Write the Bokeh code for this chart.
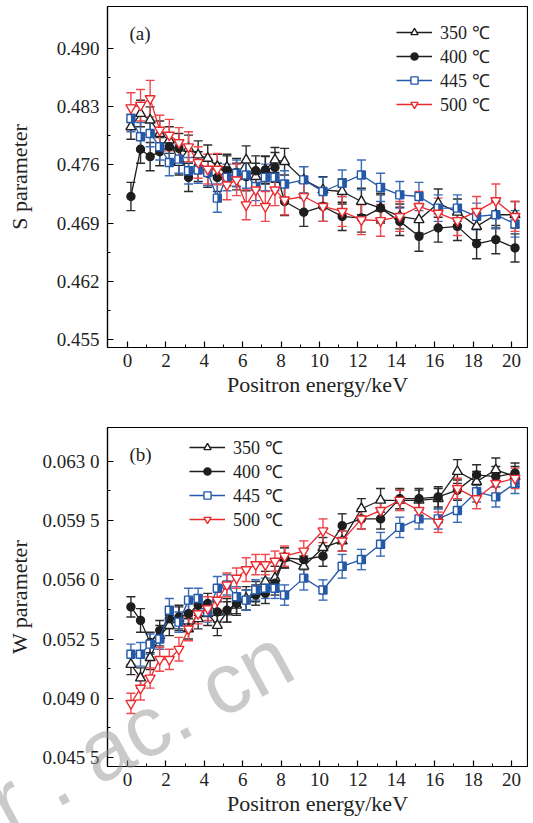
from bokeh.plotting import figure
from bokeh.layouts import column
from bokeh.models import (ColumnDataSource, Whisker, TeeHead, FixedTicker, Range1d,
                          Legend, LegendItem, Label, Div)
from bokeh.embed import file_html
from bokeh.resources import INLINE

# ---------------- data ----------------
energy = [0.18, 0.68, 1.18, 1.68, 2.18, 2.68, 3.18, 3.68, 4.18, 4.68, 5.18, 5.68,
          6.18, 6.68, 7.18, 7.68, 8.18, 9.18, 10.18, 11.18, 12.18, 13.18, 14.18,
          15.18, 16.18, 17.18, 18.18, 19.18, 20.18]
labels = ["350 ℃", "400 ℃", "445 ℃", "500 ℃"]

s_350 = [0.4806, 0.4822, 0.4814, 0.4798, 0.4790, 0.4763, 0.4780, 0.4772, 0.4768, 0.4758,
         0.4757, 0.4746, 0.4766, 0.4746, 0.4754, 0.4766, 0.4764, 0.4742, 0.4730, 0.4728,
         0.4716, 0.4708, 0.4698, 0.4694, 0.4714, 0.4703, 0.4686, 0.4700, 0.4700]
s_400 = [0.4722, 0.4779, 0.4770, 0.4776, 0.4782, 0.4780, 0.4745, 0.4758, 0.4750, 0.4745,
         0.4753, 0.4751, 0.4746, 0.4753, 0.4754, 0.4757, 0.4716, 0.4703, 0.4710, 0.4698,
         0.4696, 0.4708, 0.4692, 0.4674, 0.4684, 0.4686, 0.4665, 0.4670, 0.4660]
s_445 = [0.4816, 0.4794, 0.4798, 0.4782, 0.4763, 0.4767, 0.4753, 0.4754, 0.4751, 0.4720,
         0.4745, 0.4750, 0.4748, 0.4734, 0.4745, 0.4745, 0.4737, 0.4742, 0.4728, 0.4738,
         0.4748, 0.4733, 0.4724, 0.4722, 0.4708, 0.4708, 0.4698, 0.4700, 0.4689]
s_500 = [0.4829, 0.4832, 0.4840, 0.4802, 0.4796, 0.4787, 0.4782, 0.4763, 0.4755, 0.4755,
         0.4736, 0.4742, 0.4712, 0.4730, 0.4710, 0.4730, 0.4718, 0.4722, 0.4710, 0.4704,
         0.4694, 0.4693, 0.4698, 0.4710, 0.4702, 0.4693, 0.4704, 0.4717, 0.4698]

s_350_err = [0.0015, 0.0016, 0.0016, 0.0015, 0.0016, 0.0015, 0.0016, 0.0017, 0.0016, 0.0015,
             0.0016, 0.0016, 0.0017, 0.0016, 0.0016, 0.0015, 0.0016, 0.0016, 0.0016, 0.0015,
             0.0016, 0.0016, 0.0015, 0.0016, 0.0017, 0.0016, 0.0016, 0.0016, 0.0016]
s_400_err = [0.0017, 0.0017, 0.0017, 0.0017, 0.0017, 0.0018, 0.0017, 0.0018, 0.0017, 0.0017,
             0.0018, 0.0017, 0.0017, 0.0018, 0.0017, 0.0018, 0.0017, 0.0017, 0.0018, 0.0017,
             0.0017, 0.0018, 0.0017, 0.0018, 0.0017, 0.0017, 0.0018, 0.0017, 0.0017]
s_445_err = [0.0016, 0.0017, 0.0016, 0.0016, 0.0016, 0.0017, 0.0016, 0.0016, 0.0016, 0.0017,
             0.0016, 0.0016, 0.0016, 0.0017, 0.0016, 0.0016, 0.0016, 0.0016, 0.0017, 0.0016,
             0.0018, 0.0017, 0.0016, 0.0017, 0.0016, 0.0016, 0.0016, 0.0017, 0.0016]
s_500_err = [0.0018, 0.0019, 0.0022, 0.0018, 0.0019, 0.0018, 0.0018, 0.0019, 0.0018, 0.0019,
             0.0018, 0.0019, 0.0018, 0.0019, 0.0018, 0.0019, 0.0018, 0.0018, 0.0018, 0.0018,
             0.0018, 0.0019, 0.0018, 0.0018, 0.0018, 0.0018, 0.0018, 0.0020, 0.0018]

w_350 = [0.0510, 0.0502, 0.0514, 0.0527, 0.0533, 0.0537, 0.0531, 0.0537, 0.0540, 0.0533,
         0.0541, 0.0545, 0.0549, 0.0553, 0.0559, 0.0561, 0.0573, 0.0568, 0.0579, 0.0583,
         0.0602, 0.0607, 0.0607, 0.0607, 0.0608, 0.0624, 0.0618, 0.0625, 0.0621]
w_400 = [0.0544, 0.0536, 0.0523, 0.0530, 0.0537, 0.0538, 0.0540, 0.0545, 0.0546, 0.0541,
         0.0542, 0.0546, 0.0548, 0.0551, 0.0552, 0.0558, 0.0573, 0.0572, 0.0574, 0.0592,
         0.0596, 0.0596, 0.0608, 0.0608, 0.0609, 0.0613, 0.0622, 0.0621, 0.0623]
w_445 = [0.0516, 0.0516, 0.0522, 0.0525, 0.0542, 0.0535, 0.0548, 0.0549, 0.0541, 0.0555,
         0.0557, 0.0550, 0.0548, 0.0554, 0.0555, 0.0555, 0.0551, 0.0561, 0.0554, 0.0568,
         0.0572, 0.0581, 0.0591, 0.0596, 0.0596, 0.0601, 0.0612, 0.0609, 0.0617]
w_500 = [0.0487, 0.0496, 0.0502, 0.0513, 0.0513, 0.0519, 0.0531, 0.0540, 0.0543, 0.0548,
         0.0557, 0.0561, 0.0566, 0.0569, 0.0569, 0.0571, 0.0574, 0.0577, 0.0589, 0.0583,
         0.0596, 0.0601, 0.0607, 0.0601, 0.0594, 0.0614, 0.0608, 0.0617, 0.0620]

w_350_err = [0.0006, 0.0006, 0.0007, 0.0006, 0.0006, 0.0007, 0.0006, 0.0006, 0.0007, 0.0006,
             0.0006, 0.0006, 0.0007, 0.0006, 0.0006, 0.0007, 0.0006, 0.0006, 0.0006, 0.0006,
             0.0006, 0.0007, 0.0006, 0.0006, 0.0006, 0.0007, 0.0006, 0.0007, 0.0006]
w_400_err = [0.0006, 0.0007, 0.0006, 0.0006, 0.0006, 0.0007, 0.0006, 0.0006, 0.0006, 0.0006,
             0.0007, 0.0006, 0.0006, 0.0006, 0.0006, 0.0007, 0.0006, 0.0006, 0.0006, 0.0007,
             0.0006, 0.0006, 0.0006, 0.0006, 0.0006, 0.0006, 0.0006, 0.0006, 0.0006]
w_445_err = [0.0006, 0.0007, 0.0006, 0.0006, 0.0007, 0.0006, 0.0007, 0.0006, 0.0006, 0.0007,
             0.0006, 0.0006, 0.0006, 0.0006, 0.0006, 0.0006, 0.0006, 0.0007, 0.0006, 0.0007,
             0.0006, 0.0007, 0.0006, 0.0006, 0.0006, 0.0007, 0.0006, 0.0006, 0.0006]
w_500_err = [0.0006, 0.0007, 0.0006, 0.0007, 0.0006, 0.0007, 0.0007, 0.0006, 0.0007, 0.0006,
             0.0007, 0.0006, 0.0007, 0.0006, 0.0006, 0.0006, 0.0006, 0.0006, 0.0007, 0.0006,
             0.0006, 0.0006, 0.0006, 0.0006, 0.0006, 0.0006, 0.0006, 0.0006, 0.0006]

x_ticks = [0, 2, 4, 6, 8, 10, 12, 14, 16, 18, 20]
x_minor = [1, 3, 5, 7, 9, 11, 13, 15, 17, 19]
s_ticks = [0.455, 0.462, 0.469, 0.476, 0.483, 0.490]
s_minor = [0.4585, 0.4655, 0.4725, 0.4795, 0.4865]
s_tick_labels = ["0.455", "0.462", "0.469", "0.476", "0.483", "0.490"]
w_ticks = [0.0455, 0.0490, 0.0525, 0.0560, 0.0595, 0.0630]
w_minor = [0.04725, 0.05075, 0.05425, 0.05775, 0.06125]
w_tick_labels = ["0.045 5", "0.049 0", "0.052 5", "0.056 0", "0.059 5", "0.063 0"]
watermark = "r . ac. cn"

# ---------------- style ----------------
FONT = "Liberation Serif"
LINE_COLORS = ["#1e1e1e", "#1e1e1e", "#2458a8", "#ec2a2e"]
ERR_COLORS = ["#2b2b2b", "#2b2b2b", "#3a6bb8", "#f0484c"]
MARKERS = ["triangle", "circle", "square", "inverted_triangle"]
SIZES = [10, 8, 8, 10]
FILLS = ["white", "#1e1e1e", "white", "white"]
X0, X1 = -1.04, 20.83
W = 528
BL, BR = 107, 1
PX_PER_X = (W - BL - BR) / (X1 - X0)


def make_fig(height, yr, yticks, yminor, ylabels, ylab, top, bottom, ylab_standoff):
    p = figure(width=W, height=height, x_range=Range1d(X0, X1), y_range=Range1d(*yr),
               output_backend="svg", toolbar_location=None,
               min_border_left=BL, min_border_right=BR,
               min_border_top=top, min_border_bottom=bottom)
    p.grid.visible = False
    p.outline_line_color = "black"
    p.outline_line_width = 1.2
    p.background_fill_color = "white"
    p.border_fill_color = "white"
    p.xaxis.ticker = FixedTicker(ticks=x_ticks, minor_ticks=x_minor)
    p.yaxis.ticker = FixedTicker(ticks=yticks, minor_ticks=yminor)
    p.yaxis.major_label_overrides = {t: l for t, l in zip(yticks, ylabels)}
    p.xaxis.axis_label = "Positron energy/keV"
    p.yaxis.axis_label = ylab
    for ax in (p.xaxis[0], p.yaxis[0]):
        ax.major_tick_in = 6
        ax.major_tick_out = 0
        ax.minor_tick_in = 3
        ax.minor_tick_out = 0
        ax.axis_line_color = "black"
        ax.axis_line_width = 1.2
        ax.major_tick_line_color = "black"
        ax.major_tick_line_width = 1.2
        ax.minor_tick_line_color = "black"
        ax.major_label_text_font = FONT
        ax.major_label_text_font_size = "19px"
        ax.major_label_text_color = "#222222"
        ax.axis_label_text_font = FONT
        ax.axis_label_text_font_size = "22px"
        ax.axis_label_text_font_style = "normal"
        ax.axis_label_text_color = "#222222"
    p.xaxis.major_label_standoff = 6
    p.xaxis.axis_label_standoff = 2
    p.yaxis.major_label_standoff = 8
    p.yaxis.axis_label_standoff = ylab_standoff
    return p


def add_series(p, ys, errs, legend_loc, half_h):
    items = []
    for i, (y, e) in enumerate(zip(ys, errs)):
        src = ColumnDataSource(dict(x=energy, y=y,
                                    upper=[a + b for a, b in zip(y, e)],
                                    lower=[a - b for a, b in zip(y, e)],
                                    xh=[a + 2.0 / PX_PER_X for a in energy]))
        wk = Whisker(source=src, base="x", upper="upper", lower="lower",
                     line_color=ERR_COLORS[i], line_width=1.4,
                     upper_head=TeeHead(size=9, line_color=ERR_COLORS[i], line_width=1.4),
                     lower_head=TeeHead(size=9, line_color=ERR_COLORS[i], line_width=1.4))
        p.add_layout(wk)
        lr = p.line("x", "y", source=src, line_color=LINE_COLORS[i], line_width=1.3)
        sr = p.scatter("x", "y", source=src, marker=MARKERS[i], size=SIZES[i],
                       fill_color=FILLS[i], line_color=LINE_COLORS[i], line_width=1.4)
        if MARKERS[i] == "square":
            p.rect("xh", "y", source=src, width=4.0 / PX_PER_X, height=half_h,
                   height_units="screen", fill_color=LINE_COLORS[i], line_color=None)
        items.append(LegendItem(label=labels[i], renderers=[lr, sr]))
    lg = Legend(items=items, location=legend_loc, label_text_font=FONT,
                label_text_font_size="18px", label_text_color="#222222",
                glyph_width=36, glyph_height=18, label_height=18, spacing=0,
                padding=0, label_standoff=8, border_line_color=None,
                background_fill_alpha=0)
    p.add_layout(lg)


p1 = make_fig(402, (0.4540, 0.4951), s_ticks, s_minor, s_tick_labels,
              "S parameter", 6, 55, 22)
add_series(p1, [s_350, s_400, s_445, s_500],
           [s_350_err, s_400_err, s_445_err, s_500_err], (289, 231), 8)
p1.add_layout(Label(x=0.1, y=0.4919, text="(a)", text_font=FONT,
                    text_font_size="19px", text_baseline="middle", text_color="#222222"))

p2 = make_fig(418, (0.04497, 0.0650), w_ticks, w_minor, w_tick_labels,
              "W parameter", 25, 54, 8)
add_series(p2, [w_350, w_400, w_445, w_500],
           [w_350_err, w_400_err, w_445_err, w_500_err], (82, 235), 8)
p2.add_layout(Label(x=0.1, y=0.0634, text="(b)", text_font=FONT,
                    text_font_size="19px", text_baseline="middle", text_color="#222222"))

# watermark drawn over the whole lower figure (not clipped to the frame)
wm_html = ('<div style="position:absolute; left:5px; top:755px; '
           'transform-origin:0px 75px; transform:rotate(-28.5deg); '
           'font-family:\'Liberation Sans\'; font-size:86px; line-height:88px; '
           'color:rgba(150,150,150,0.5); white-space:nowrap; pointer-events:none;">'
           + watermark + '</div>')
wm = Div(text=wm_html, width=0, height=0,
         styles={"position": "absolute", "left": "0px", "top": "0px",
                 "overflow": "visible", "z-index": "10"})

layout = column(p1, p2, wm, spacing=0)
open("out.html", "w").write(file_html(layout, INLINE))
